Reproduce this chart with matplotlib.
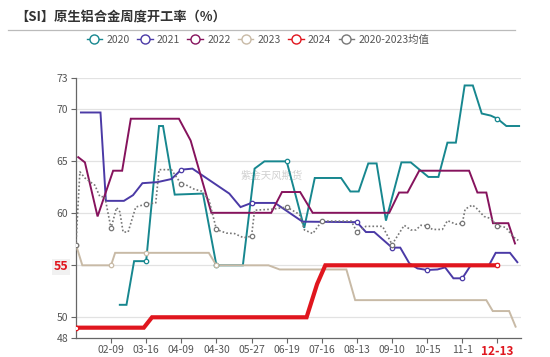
import matplotlib
matplotlib.use('Agg')
import matplotlib.pyplot as plt
from matplotlib.lines import Line2D

plt.rcParams['font.family'] = ['Noto Sans CJK SC', 'DejaVu Sans']

# x positions are category positions on the week axis (ticks every 3)
tick_pos = [3, 6, 9, 12, 15, 18, 21, 24, 27, 30, 33, 36]
tick_lab = ['02-09', '03-16', '04-09', '04-30', '05-27', '06-19', '07-16',
            '08-13', '09-10', '10-15', '11-1', '12-13']

x2020 = [3.75, 4.32, 4.97, 6, 7.1, 7.44, 8.44, 10.85, 12, 14.26, 15.26, 16.1, 18, 19.5, 20.4,
         22.65, 23.44, 24.15, 24.97, 25.68, 26.48, 27.8, 28.6, 30.1, 30.96, 31.73, 32.45,
         33.2, 33.9, 34.66, 35.43, 36, 36.76, 37.85]
y2020 = [51.2, 51.2, 55.4, 55.4, 68.4, 68.4, 61.8, 61.9, 55.0, 55.0, 64.3, 65.0, 65.0, 58.6,
         63.4, 63.4, 62.1, 62.1, 64.8, 64.8, 59.3, 64.9, 64.9, 63.5, 63.5, 66.8, 66.8, 72.3,
         72.3, 69.6, 69.4, 69.1, 68.4, 68.4]

x2021 = [0.43, 2.1, 2.56, 4.1, 4.88, 5.68, 6.96, 8.16, 9, 9.95, 13.1, 14.06, 15, 17.0, 19.35,
         24, 24.77, 25.48, 27, 27.7, 28.47, 29.17, 30, 30.88, 31.53, 32.24, 33, 33.72, 35.28,
         35.85, 37.07, 37.7]
y2021 = [69.7, 69.7, 61.2, 61.2, 61.75, 62.9, 63.0, 63.3, 64.2, 64.3, 61.9, 60.6, 61.0, 61.0,
         59.2, 59.15, 58.2, 58.2, 56.7, 56.7, 55.2, 54.7, 54.55, 54.6, 54.8, 53.75, 53.75, 55.0,
         55.0, 56.2, 56.2, 55.3]

x2022 = [0.2, 0.77, 1.85, 3.18, 3.95, 4.69, 8.8, 9.8, 11.57, 16.68, 17.6, 19.15, 20.22, 26.76,
         27.6, 28.32, 29.32, 33.58, 34.29, 35.05, 35.62, 36.93, 37.5]
y2022 = [65.4, 64.9, 59.7, 64.1, 64.1, 69.1, 69.1, 67.0, 60.05, 60.05, 62.05, 62.05, 60.05,
         60.05, 62.0, 62.0, 64.1, 64.1, 62.0, 62.0, 59.05, 59.05, 57.1]

x2023 = [0, 0.55, 3, 3.35, 6, 11.35, 12, 16.45, 17.4, 23.1, 23.85, 35.05, 35.6, 37.0, 37.55]
y2023 = [57.0, 55.0, 55.0, 56.2, 56.2, 56.2, 55.0, 55.0, 54.6, 54.6, 51.65, 51.65, 50.6, 50.6, 49.1]

x2024 = [0, 5.8, 6.5, 19.7, 20.6, 21.3, 36]
y2024 = [49.0, 49.0, 50.0, 50.0, 53.2, 55.0, 55.0]

xavg = [0, 0.34, 0.77, 1.62, 2.05, 2.47, 3, 3.47, 3.75, 4.03, 4.46, 5.11, 6, 6.82, 7.1, 8.16,
        9, 9.29, 10.14, 10.71, 11.36, 12, 12.84, 13.55, 14.32, 15, 15.26, 16.79, 18, 19.09,
        19.52, 20.23, 21, 23.52, 24, 24.77, 26.19, 27, 28.04, 28.61, 29.04, 29.46, 30, 30.45,
        31.3, 31.73, 32.45, 33, 33.24, 33.86, 34.2, 34.86, 35.43, 36, 36.71, 37.33, 37.78]
yavg = [57.0, 64.0, 63.4, 62.7, 61.6, 61.6, 58.55, 60.55, 60.15, 58.2, 58.2, 60.6, 60.9, 61.0,
        64.2, 64.2, 62.8, 62.8, 62.3, 62.15, 61.3, 58.45, 58.1, 58.05, 57.65, 57.8, 60.3, 60.4,
        60.6, 59.9, 58.4, 58.05, 59.25, 59.25, 58.2, 58.75, 58.75, 57.0, 58.85, 58.4, 58.4,
        58.85, 58.8, 58.45, 58.45, 59.3, 58.95, 59.05, 60.4, 60.8, 60.5, 59.7, 59.5, 58.8,
        58.65, 57.75, 57.4]

series = [
    ('2020', x2020, y2020, '#17878f', 1.4, '-'),
    ('2021', x2021, y2021, '#4b3aa6', 1.4, '-'),
    ('2022', x2022, y2022, '#86135d', 1.4, '-'),
    ('2023', x2023, y2023, '#c8baa6', 1.4, '-'),
    ('2024', x2024, y2024, '#e0161e', 3.0, '-'),
    ('2020-2023均值', xavg, yavg, '#777777', 1.2, (0, (1, 1.3))),
]

fig = plt.figure(figsize=(5.5, 3.57), dpi=100)
ax = fig.add_axes([0.138, 0.053, 0.809, 0.728])

handles = []
for name, xs, ys, c, lw, ls in series:
    ax.plot(xs, ys, color=c, lw=lw, ls=ls, solid_joinstyle='miter', zorder=3)
    marks = [i for i, x in enumerate(xs) if x % 3 == 0]
    ax.plot([xs[i] for i in marks], [ys[i] for i in marks], ls='none', marker='o',
            ms=3.2, mfc='white', mec=c, mew=0.9, zorder=4)
    handles.append(Line2D([], [], color=c, lw=1.0, marker='o', ms=6.5, mfc='white',
                          mec=c, mew=1.0, label=name))

ax.set_xlim(0, 38)
ax.set_ylim(48, 73)
ax.set_yticks([48, 50, 55, 60, 65, 70, 73])
ax.set_yticklabels(['48', '50', '55', '60', '65', '70', '73'])
ax.set_xticks(tick_pos)
ax.set_xticklabels(tick_lab)
for v in [50, 55, 60, 65, 70, 73]:
    ax.axhline(v, color='#e2e2e2', lw=0.9, zorder=1)

for s in ['top', 'right']:
    ax.spines[s].set_visible(False)
for s in ['left', 'bottom']:
    ax.spines[s].set_color('#666666')
    ax.spines[s].set_linewidth(0.9)
ax.tick_params(axis='both', colors='#666666', labelcolor='#555555', labelsize=7.5,
               length=3.5, width=0.8, pad=2)
ax.tick_params(axis='x', pad=1.5)

for lab in ax.get_yticklabels():
    if lab.get_text() == '55':
        lab.set_color('#e0161e')
        lab.set_fontweight('bold')
        lab.set_fontsize(9)
        lab.set_bbox(dict(facecolor='#f1f1f1', edgecolor='none', pad=1.2))
for lab in ax.get_xticklabels():
    if lab.get_text() == '12-13':
        lab.set_color('#e0161e')
        lab.set_fontweight('bold')
        lab.set_fontsize(8.5)

ax.text(16.7, 63.6, '紫金天风期货', color='#d0d0d0', fontsize=7.5, ha='center', va='center',
        zorder=2)

fig.text(0.027, 0.952, '【SI】原生铝合金周度开工率（%）', fontsize=9.5, fontweight='bold',
         color='#333333', ha='left', va='center')
fig.add_artist(Line2D([0.015, 0.936], [0.916, 0.916], color='#bbbbbb', lw=0.9))

fig.legend(handles=handles, loc='center', bbox_to_anchor=(0.469, 0.889), ncol=6,
           frameon=False, fontsize=7.5, handlelength=1.5, handletextpad=0.4,
           columnspacing=0.7, labelcolor='#555555')

fig.savefig('out.png', dpi=100)
